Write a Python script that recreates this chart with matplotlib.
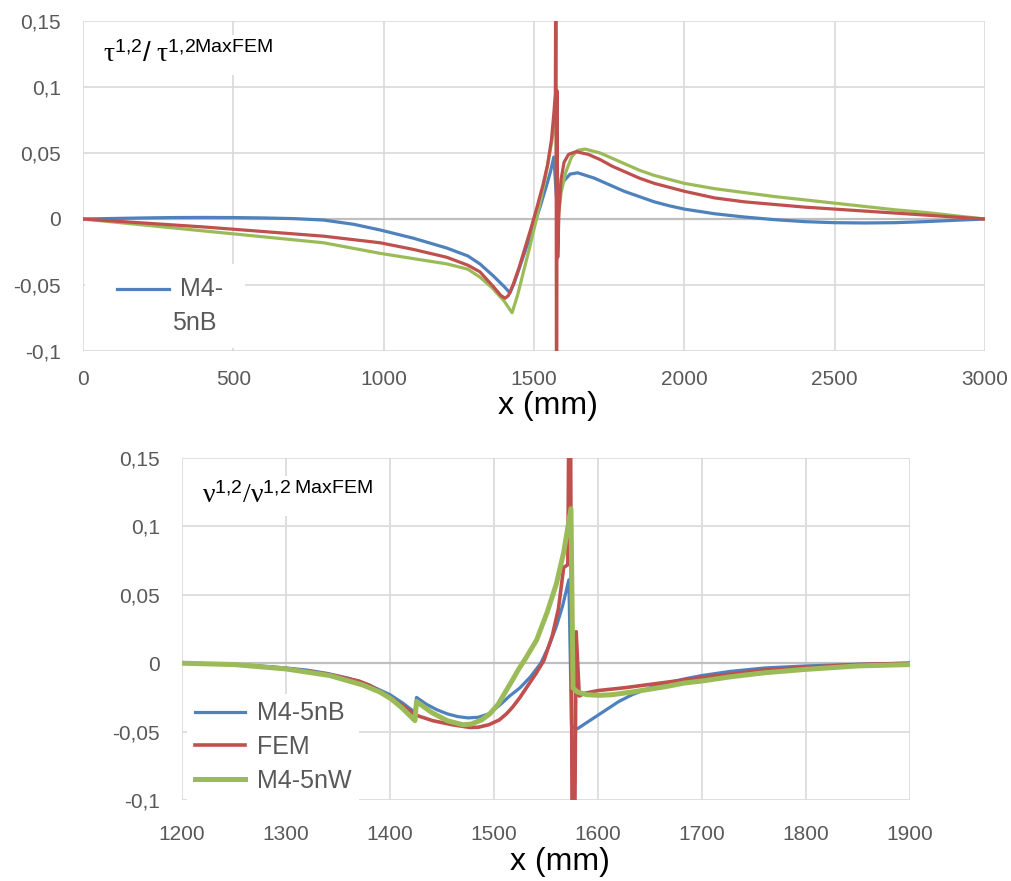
import matplotlib
matplotlib.use('Agg')
import matplotlib.pyplot as plt
from matplotlib.lines import Line2D
from matplotlib.patches import Rectangle
from matplotlib.ticker import FuncFormatter, MultipleLocator

plt.rcParams['font.family'] = ['Liberation Sans', 'DejaVu Sans']
plt.rcParams['mathtext.fontset'] = 'custom'
plt.rcParams['mathtext.rm'] = 'Liberation Serif'
plt.rcParams['mathtext.sf'] = 'Liberation Sans'
plt.rcParams['mathtext.it'] = 'Liberation Serif:italic'

# --- Top panel: tau^{1,2} / tau^{1,2 MaxFEM} along x (mm) ---
top_x_blue = [0, 100, 200, 300, 400, 500, 600, 700, 800, 900, 988, 1098, 1210, 1280,
              1320, 1364, 1400, 1420, 1435, 1450, 1465, 1480, 1500, 1520, 1540, 1555,
              1566, 1575, 1585, 1600, 1620, 1645, 1700, 1750, 1800, 1850, 1900, 1950,
              2000, 2100, 2200, 2300, 2400, 2500, 2600, 2700, 2800, 2900, 3000]
top_y_blue = [0, 0.0004, 0.0008, 0.0011, 0.0012, 0.0011, 0.0008, 0.0003, -0.0008,
              -0.004, -0.0083, -0.0145, -0.022, -0.028, -0.034, -0.043, -0.051, -0.056,
              -0.048, -0.038, -0.028, -0.018, -0.005, 0.009, 0.024, 0.036, 0.047, 0.015,
              0.022, 0.029, 0.034, 0.035, 0.031, 0.026, 0.021, 0.017, 0.013, 0.01,
              0.0075, 0.004, 0.0015, -0.0005, -0.002, -0.0028, -0.003, -0.0028, -0.002,
              -0.001, 0]

top_x_red = [0, 200, 400, 600, 800, 988, 1098, 1210, 1280, 1320, 1364, 1390, 1404,
             1415, 1430, 1450, 1470, 1490, 1510, 1530, 1545, 1558, 1566, 1571, 1573,
             1575, 1577, 1579, 1583, 1590, 1600, 1615, 1640, 1680, 1720, 1760, 1800,
             1850, 1900, 2000, 2100, 2200, 2300, 2400, 2500, 2600, 2700, 2800, 2900, 3000]
top_y_red = [0, -0.003, -0.006, -0.0095, -0.013, -0.018, -0.023, -0.029, -0.035, -0.04,
             -0.051, -0.058, -0.06, -0.058, -0.05, -0.037, -0.022, -0.007, 0.009, 0.026,
             0.041, 0.06, 0.08, 0.095, 0.25, -0.25, 0.097, -0.029, 0.005, 0.03, 0.043,
             0.049, 0.051, 0.049, 0.045, 0.04, 0.036, 0.031, 0.027, 0.021, 0.016, 0.013,
             0.011, 0.009, 0.0075, 0.006, 0.0045, 0.003, 0.0015, 0]

top_x_green = [0, 200, 400, 600, 800, 988, 1098, 1210, 1280, 1320, 1360, 1400, 1427,
               1445, 1465, 1485, 1505, 1525, 1545, 1560, 1573, 1577, 1580, 1590, 1605,
               1625, 1645, 1670, 1720, 1760, 1800, 1850, 1900, 1950, 2000, 2100, 2200,
               2300, 2400, 2500, 2600, 2700, 2800, 2900, 3000]
top_y_green = [0, -0.0045, -0.009, -0.0135, -0.018, -0.026, -0.03, -0.034, -0.038,
               -0.044, -0.052, -0.062, -0.071, -0.058, -0.04, -0.022, -0.003, 0.017,
               0.04, 0.06, 0.081, -0.025, 0.0, 0.02, 0.035, 0.047, 0.052, 0.053, 0.05,
               0.046, 0.042, 0.037, 0.033, 0.03, 0.027, 0.023, 0.02, 0.017, 0.0145, 0.012,
               0.0095, 0.007, 0.005, 0.0025, 0]

# --- Bottom panel: nu^{1,2} / nu^{1,2 MaxFEM}, zoom 1200..1900 mm ---
bot_x_blue = [1200, 1225, 1250, 1275, 1300, 1320, 1340, 1360, 1380, 1400, 1412, 1424,
              1425.5, 1435, 1445, 1455, 1465, 1475, 1485, 1495, 1505, 1515, 1525, 1535,
              1545, 1553, 1560, 1566, 1572, 1574.5, 1580, 1590, 1600, 1610, 1620, 1633,
              1650, 1666, 1683, 1700, 1727, 1760, 1800, 1850, 1900]
bot_y_blue = [0, -0.0003, -0.001, -0.002, -0.0035, -0.005, -0.0075, -0.011, -0.016,
              -0.023, -0.029, -0.036, -0.025, -0.03, -0.034, -0.037, -0.039, -0.04,
              -0.0395, -0.037, -0.031, -0.024, -0.018, -0.01, 0.0, 0.013, 0.027, 0.042,
              0.061, -0.046, -0.048, -0.043, -0.038, -0.033, -0.028, -0.023, -0.018,
              -0.0145, -0.0115, -0.009, -0.006, -0.0035, -0.002, -0.0008, 0]

bot_x_red = [1200, 1250, 1300, 1340, 1370, 1380, 1400, 1412, 1425, 1441, 1460, 1477,
             1485, 1495, 1505, 1512, 1518, 1525, 1532, 1540, 1548, 1556, 1562, 1567,
             1571, 1573, 1576, 1579, 1582, 1587, 1600, 1625, 1650, 1675, 1700, 1727,
             1760, 1800, 1850, 1900]
bot_y_red = [0, -0.001, -0.0038, -0.008, -0.013, -0.016, -0.025, -0.031, -0.038, -0.042,
             -0.045, -0.047, -0.0468, -0.045, -0.0415, -0.037, -0.032, -0.025, -0.017,
             -0.008, 0.002, 0.02, 0.04, 0.07, 0.072, 0.3, -0.3, 0.023, -0.024, -0.022,
             -0.02, -0.018, -0.0155, -0.013, -0.0105, -0.008, -0.005, -0.003, -0.001, 0]

bot_x_green = [1200, 1250, 1300, 1342, 1374, 1390, 1401, 1412, 1424, 1425.5, 1440, 1455,
               1470, 1478, 1488, 1496, 1504, 1511, 1518, 1524, 1530, 1541, 1551, 1560,
               1567, 1574, 1576, 1580, 1589, 1601, 1614, 1633, 1650, 1666, 1683, 1700,
               1727, 1760, 1800, 1850, 1900]
bot_y_green = [0, -0.001, -0.0042, -0.009, -0.016, -0.021, -0.026, -0.033, -0.042,
               -0.028, -0.036, -0.042, -0.045, -0.0445, -0.0415, -0.037, -0.03, -0.021,
               -0.012, -0.004, 0.003, 0.017, 0.037, 0.058, 0.081, 0.113, -0.018, -0.021,
               -0.023, -0.0235, -0.023, -0.021, -0.019, -0.017, -0.0145, -0.013, -0.01,
               -0.007, -0.0045, -0.002, -0.001]

BLUE = '#4f81bd'
RED = '#c0504d'
GREEN = '#9bbb59'
GRID = '#d9d9d9'
TICK = '#595959'


def comma_fmt(v, pos):
    v = round(v, 4)
    if v == 0:
        return '0'
    return f'{v:g}'.replace('.', ',')


def style_axes(ax, xmin, xmax, xstep, xpad, labelpad, label_shift):
    ax.set_xlim(xmin, xmax)
    ax.set_ylim(-0.1, 0.15)
    ax.xaxis.set_major_locator(MultipleLocator(xstep))
    ax.yaxis.set_major_locator(MultipleLocator(0.05))
    ax.yaxis.set_major_formatter(FuncFormatter(comma_fmt))
    ax.xaxis.set_major_formatter(FuncFormatter(lambda v, p: f'{int(round(v))}'))
    for s in ax.spines.values():
        s.set_visible(False)
    ax.set_axisbelow(True)
    ax.grid(True, color=GRID, linewidth=1.2)
    ax.axhline(0, color='#bfbfbf', linewidth=1.6, zorder=1)
    ax.tick_params(length=0, labelsize=15, labelcolor=TICK)
    ax.tick_params(axis='x', pad=xpad)
    ax.tick_params(axis='y', pad=16)
    ax.set_xlabel('x (mm)', fontsize=23, color='black', labelpad=labelpad)
    ax.xaxis.label.set_x(0.5 + label_shift)


fig = plt.figure(figsize=(10.11, 8.81), dpi=100)

# Panel haut
ax1 = fig.add_axes([83 / 1011, 1 - 351 / 881, 902 / 1011, 330 / 881])
style_axes(ax1, 0, 3000, 500, 14, 1, 14 / 902)
ax1.plot(top_x_blue, top_y_blue, color=BLUE, linewidth=2.3, zorder=3)
ax1.plot(top_x_green, top_y_green, color=GREEN, linewidth=2.3, zorder=3)
ax1.plot(top_x_red, top_y_red, color=RED, linewidth=2.3, zorder=4)
ax1.text(20 / 902, 1 - 41 / 330,
         r'$\mathrm{\tau}^{\mathsf{1{,}2}}\mathsf{/\ }\mathrm{\tau}^{\mathsf{1{,}2MaxFEM}}$',
         transform=ax1.transAxes, fontsize=20, va='baseline', ha='left', zorder=6,
         bbox=dict(facecolor='white', edgecolor='none', pad=5))

# Legende (une seule serie, libelle sur deux lignes)
ax1.add_patch(Rectangle((0.002, 0.01), 0.178, 0.255, transform=ax1.transAxes,
                        facecolor='white', edgecolor='none', zorder=1.5))
ax1.add_line(Line2D([34 / 902, 86 / 902], [62 / 330, 62 / 330], transform=ax1.transAxes,
                    color=BLUE, linewidth=2.3, zorder=5))
ax1.text(97 / 902, 62 / 330, 'M4-', transform=ax1.transAxes, fontsize=18,
         color=TICK, va='center', ha='left', zorder=5)
ax1.text(89 / 902, 28 / 330, '5nB', transform=ax1.transAxes, fontsize=18,
         color=TICK, va='center', ha='left', zorder=5)

# Panel bas
ax2 = fig.add_axes([182 / 1011, 1 - 800 / 881, 728 / 1011, 342 / 881])
style_axes(ax2, 1200, 1900, 100, 18, 2, 14 / 728)
ax2.plot(bot_x_blue, bot_y_blue, color=BLUE, linewidth=2.3, label='M4-5nB', zorder=3)
ax2.plot(bot_x_red, bot_y_red, color=RED, linewidth=2.6, label='FEM', zorder=3)
ax2.plot(bot_x_green, bot_y_green, color=GREEN, linewidth=3.6, label='M4-5nW', zorder=4)
ax2.text(20 / 728, 1 - 45 / 342,
         r'$\mathrm{\nu}^{\mathsf{1{,}2}}/\mathrm{\nu}^{\mathsf{1{,}2\ MaxFEM}}$',
         transform=ax2.transAxes, fontsize=20, va='baseline', ha='left', zorder=6,
         bbox=dict(facecolor='white', edgecolor='none', pad=5))
leg2 = ax2.legend(loc='lower left', bbox_to_anchor=(0.007, 0.0), fontsize=18,
                  frameon=True, fancybox=False, handlelength=2.0, handletextpad=0.5,
                  labelspacing=0.38, borderaxespad=0.0, borderpad=0.3)
leg2.get_frame().set_facecolor('white')
leg2.get_frame().set_edgecolor('none')
leg2.get_frame().set_alpha(1)
for t in leg2.get_texts():
    t.set_color(TICK)

plt.savefig('out.png', dpi=100)
plt.close(fig)
